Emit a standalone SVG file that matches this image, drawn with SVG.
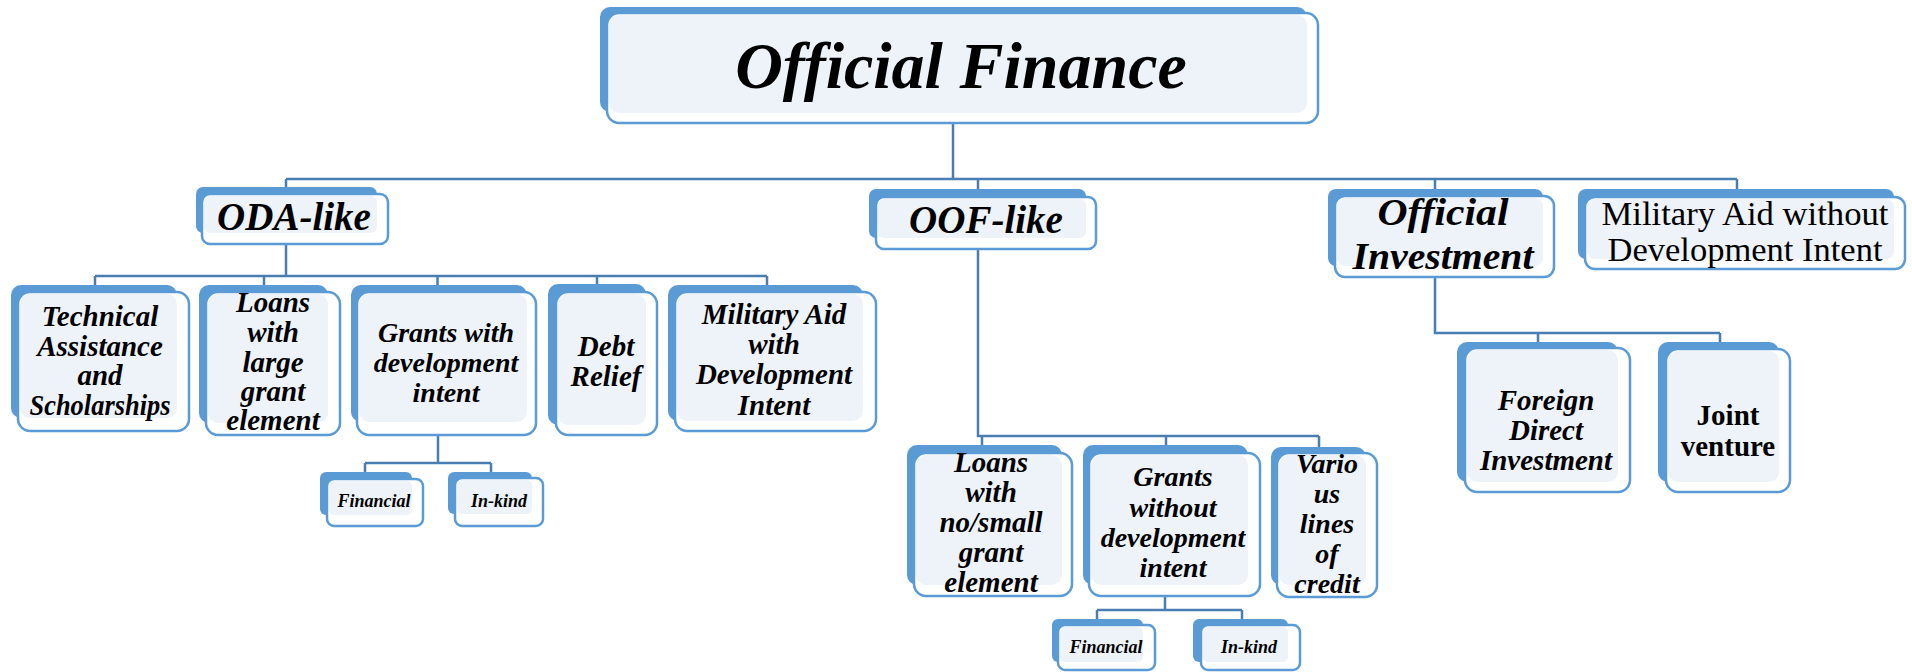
<svg xmlns="http://www.w3.org/2000/svg" width="1912" height="672" viewBox="0 0 1912 672">
<style>
.bk{fill:#5B9BD5}
.fr{fill:#FFFFFF;stroke:#5B9BD5;stroke-width:2.5}
.lt{fill:#EEF3FA}
.t{font-family:"Liberation Serif","Times New Roman",serif;font-weight:bold;font-style:italic;fill:#000;text-anchor:middle}
.r{font-family:"Liberation Serif","Times New Roman",serif;fill:#000;text-anchor:middle}
.b{font-family:"Liberation Serif","Times New Roman",serif;font-weight:bold;fill:#000;text-anchor:middle}
#connectors path{fill:none;stroke:#4A7EB3;stroke-width:2.5}
</style>
<rect width="1912" height="672" fill="#FFFFFF"/>
<g id="connectors">
<path d="M953,123 V179 M286,179 H1737 M286,179 V194 M978,179 V197 M1435,179 V196 M1737,179 V197"/>
<path d="M286,244 V276 M95,276 H767 M95,276 V285 M264,276 V285 M437.5,276 V285 M597,276 V285 M767,276 V285"/>
<path d="M438,435 V463 M365,463 H491 M365,463 V472 M491,463 V472"/>
<path d="M978,249 V436 H1319 M982,436 V445 M1166,436 V445 M1319,436 V447"/>
<path d="M1165,596 V610 M1097,610 H1242 M1097,610 V619 M1242,610 V619"/>
<path d="M1435,277 V333 H1720 M1538,333 V342 M1720,333 V342"/>
</g>
<g id="official-finance">
<rect class="bk" x="600" y="7" width="707" height="105" rx="10"/>
<rect class="fr" x="607" y="13" width="711" height="110" rx="12"/>
<rect class="lt" x="609" y="15" width="698" height="98" rx="10"/>
<text class="t" x="961" y="88" font-size="66">Official Finance</text>
</g>
<g id="oda-like">
<rect class="bk" x="196" y="187" width="181" height="46" rx="7"/>
<rect class="fr" x="202" y="194" width="186" height="50" rx="8"/>
<rect class="lt" x="204" y="196" width="173" height="37" rx="6"/>
<text class="t" x="294" y="230" font-size="39">ODA-like</text>
</g>
<g id="oof-like">
<rect class="bk" x="869" y="189" width="217" height="49" rx="7"/>
<rect class="fr" x="876" y="197" width="220" height="52" rx="8"/>
<rect class="lt" x="878" y="199" width="208" height="39" rx="6"/>
<text class="t" x="986" y="233" font-size="39">OOF-like</text>
</g>
<g id="official-investment">
<rect class="bk" x="1328" y="189" width="215" height="77" rx="8"/>
<rect class="fr" x="1335" y="196" width="219" height="81" rx="10"/>
<rect class="lt" x="1337" y="198" width="206" height="68" rx="8"/>
<text class="t" x="1443" y="225" font-size="37" textLength="131" lengthAdjust="spacingAndGlyphs">Official</text>
<text class="t" x="1443" y="269" font-size="37" textLength="181" lengthAdjust="spacingAndGlyphs">Investment</text>
</g>
<g id="military-aid-without">
<rect class="bk" x="1578" y="189" width="316" height="70" rx="8"/>
<rect class="fr" x="1585" y="197" width="320" height="72" rx="10"/>
<rect class="lt" x="1587" y="199" width="307" height="60" rx="8"/>
<text class="r" x="1745" y="225" font-size="33" textLength="287" lengthAdjust="spacingAndGlyphs">Military Aid without</text>
<text class="r" x="1745" y="261" font-size="33" textLength="275" lengthAdjust="spacingAndGlyphs">Development Intent</text>
</g>
<g id="technical-assistance">
<rect class="bk" x="11" y="285" width="166" height="133" rx="10"/>
<rect class="fr" x="18" y="292" width="171" height="139" rx="12"/>
<rect class="lt" x="20" y="294" width="157" height="124" rx="10"/>
<text class="t" x="100" y="326" font-size="29">Technical</text>
<text class="t" x="100" y="356" font-size="29">Assistance</text>
<text class="t" x="100" y="385" font-size="29">and</text>
<text class="t" x="100" y="415" font-size="29" textLength="141" lengthAdjust="spacingAndGlyphs">Scholarships</text>
</g>
<g id="loans-large-grant">
<rect class="bk" x="199" y="285" width="129" height="138" rx="10"/>
<rect class="fr" x="206" y="292" width="134" height="143" rx="12"/>
<rect class="lt" x="208" y="294" width="120" height="129" rx="10"/>
<text class="t" x="273" y="312" font-size="29">Loans</text>
<text class="t" x="273" y="342" font-size="29">with</text>
<text class="t" x="273" y="372" font-size="29">large</text>
<text class="t" x="273" y="401" font-size="29">grant</text>
<text class="t" x="273" y="430" font-size="29">element</text>
</g>
<g id="grants-with-development-intent">
<rect class="bk" x="351" y="285" width="176" height="137" rx="10"/>
<rect class="fr" x="357" y="292" width="179" height="143" rx="12"/>
<rect class="lt" x="359" y="294" width="168" height="128" rx="10"/>
<text class="t" x="446" y="342" font-size="28">Grants with</text>
<text class="t" x="446" y="372" font-size="28">development</text>
<text class="t" x="446" y="402" font-size="28">intent</text>
</g>
<g id="debt-relief">
<rect class="bk" x="548" y="284" width="98" height="141" rx="10"/>
<rect class="fr" x="556" y="292" width="101" height="143" rx="12"/>
<rect class="lt" x="558" y="294" width="88" height="131" rx="10"/>
<text class="t" x="606" y="356" font-size="29">Debt</text>
<text class="t" x="606" y="386" font-size="29">Relief</text>
</g>
<g id="military-aid-with">
<rect class="bk" x="668" y="285" width="195" height="136" rx="10"/>
<rect class="fr" x="675" y="292" width="201" height="139" rx="12"/>
<rect class="lt" x="677" y="294" width="186" height="127" rx="10"/>
<text class="t" x="774" y="324" font-size="29">Military Aid</text>
<text class="t" x="774" y="354" font-size="29">with</text>
<text class="t" x="774" y="384" font-size="29">Development</text>
<text class="t" x="774" y="415" font-size="29">Intent</text>
</g>
<g id="financial-1">
<rect class="bk" x="320" y="472" width="92" height="43" rx="6"/>
<rect class="fr" x="327" y="479" width="96" height="47" rx="7"/>
<rect class="lt" x="329" y="481" width="83" height="34" rx="5"/>
<text class="t" x="374" y="507" font-size="18">Financial</text>
</g>
<g id="in-kind-1">
<rect class="bk" x="448" y="472" width="84" height="42" rx="6"/>
<rect class="fr" x="455" y="478" width="88" height="48" rx="7"/>
<rect class="lt" x="457" y="480" width="75" height="34" rx="5"/>
<text class="t" x="499" y="507" font-size="18">In-kind</text>
</g>
<g id="loans-small-grant">
<rect class="bk" x="907" y="445" width="155" height="140" rx="10"/>
<rect class="fr" x="914" y="453" width="158" height="143" rx="12"/>
<rect class="lt" x="916" y="455" width="146" height="130" rx="10"/>
<text class="t" x="991" y="472" font-size="29">Loans</text>
<text class="t" x="991" y="502" font-size="29">with</text>
<text class="t" x="991" y="532" font-size="29">no/small</text>
<text class="t" x="991" y="562" font-size="29">grant</text>
<text class="t" x="991" y="592" font-size="29">element</text>
</g>
<g id="grants-without-development-intent">
<rect class="bk" x="1083" y="445" width="165" height="140" rx="10"/>
<rect class="fr" x="1089" y="453" width="171" height="143" rx="12"/>
<rect class="lt" x="1091" y="455" width="157" height="130" rx="10"/>
<text class="t" x="1173" y="486" font-size="28">Grants</text>
<text class="t" x="1173" y="517" font-size="28">without</text>
<text class="t" x="1173" y="547" font-size="28">development</text>
<text class="t" x="1173" y="577" font-size="28">intent</text>
</g>
<g id="various-lines-of-credit">
<rect class="bk" x="1271" y="447" width="95" height="138" rx="10"/>
<rect class="fr" x="1277" y="453" width="100" height="144" rx="12"/>
<rect class="lt" x="1279" y="455" width="87" height="130" rx="10"/>
<text class="t" x="1327" y="473" font-size="28">Vario</text>
<text class="t" x="1327" y="503" font-size="28">us</text>
<text class="t" x="1327" y="533" font-size="28">lines</text>
<text class="t" x="1327" y="563" font-size="28">of</text>
<text class="t" x="1327" y="593" font-size="28">credit</text>
</g>
<g id="financial-2">
<rect class="bk" x="1052" y="619" width="91" height="43" rx="6"/>
<rect class="fr" x="1058" y="625" width="97" height="45" rx="7"/>
<rect class="lt" x="1060" y="627" width="83" height="35" rx="5"/>
<text class="t" x="1106" y="653" font-size="18">Financial</text>
</g>
<g id="in-kind-2">
<rect class="bk" x="1193" y="619" width="95" height="43" rx="6"/>
<rect class="fr" x="1201" y="625" width="99" height="45" rx="7"/>
<rect class="lt" x="1203" y="627" width="85" height="35" rx="5"/>
<text class="t" x="1249" y="653" font-size="18">In-kind</text>
</g>
<g id="foreign-direct-investment">
<rect class="bk" x="1457" y="342" width="161" height="140" rx="10"/>
<rect class="fr" x="1465" y="348" width="165" height="144" rx="12"/>
<rect class="lt" x="1467" y="350" width="151" height="132" rx="10"/>
<text class="t" x="1546" y="410" font-size="29">Foreign</text>
<text class="t" x="1546" y="440" font-size="29">Direct</text>
<text class="t" x="1546" y="470" font-size="29">Investment</text>
</g>
<g id="joint-venture">
<rect class="bk" x="1658" y="342" width="121" height="140" rx="10"/>
<rect class="fr" x="1666" y="349" width="124" height="143" rx="12"/>
<rect class="lt" x="1668" y="351" width="111" height="131" rx="10"/>
<text class="b" x="1728" y="425" font-size="29">Joint</text>
<text class="b" x="1728" y="456" font-size="29">venture</text>
</g>
</svg>
